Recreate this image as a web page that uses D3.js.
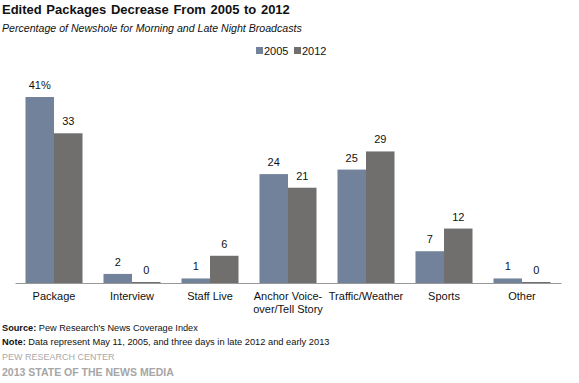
<!DOCTYPE html>
<html><head><meta charset="utf-8">
<script src="https://cdn.jsdelivr.net/npm/d3@7"></script>
<style>body{margin:0;background:#fff}svg{display:block;font-family:Arial,"Liberation Sans",sans-serif}</style>
</head><body><svg id="c" width="579" height="383"></svg>
<script>
const categories = ["Package","Interview","Staff Live","Anchor Voice-\nover/Tell Story","Traffic/Weather","Sports","Other"];
const series = ["2005","2012"];
const values2005 = [41,2,1,24,25,7,1];
const values2012 = [33,0,6,21,29,12,0];
const colors = ["#71829A","#716E6E"];

(function(){
const svg = d3.select("#c");
const base = 283, topY = 97;
const x0 = d3.scaleBand().domain(categories).range([15,561]).padding(0);
const x1 = d3.scaleBand().domain(series).range([0,x0.bandwidth()]).paddingInner(0).paddingOuter(0.368);
const y = d3.scaleLinear().domain([0,41]).range([base, topY]);

// title
svg.append("text").attr("x",2).attr("y",14).attr("font-size",13).attr("font-weight","bold")
  .attr("fill","#111").attr("word-spacing","1px").text("Edited Packages  Decrease  From 2005 to 2012");
svg.append("text").attr("x",2).attr("y",32).attr("font-size",10.6).attr("font-style","italic")
  .attr("fill","#111").text("Percentage of Newshole for Morning and Late Night Broadcasts");

// legend
const lg = svg.append("g");
[[256,"2005"],[294,"2012"]].forEach((d,i)=>{
  lg.append("rect").attr("x",d[0]).attr("y",47).attr("width",7).attr("height",7).attr("fill",colors[i]);
  lg.append("text").attr("x",d[0]+8).attr("y",55).attr("font-size",11).attr("fill","#111").text(series[i]);
});

const data = categories.map((c,i)=>({c, v:[values2005[i], values2012[i]]}));
const g = svg.append("g");
data.forEach((d,ci)=>{
  series.forEach((s,si)=>{
    const v = d.v[si];
    const bx = x0(d.c)+x1(s);
    const yy = v===0 ? base-1 : y(v);
    g.append("rect").attr("x",bx).attr("y",yy).attr("width",x1.bandwidth()).attr("height",base-yy).attr("fill",colors[si]);
    g.append("text").attr("x",bx+x1.bandwidth()/2).attr("y",yy-8).attr("text-anchor","middle")
      .attr("font-size",11).attr("fill","#111").text(v + (ci===0&&si===0?"%":""));
  });
});

// axis
const ax = svg.append("g").attr("transform",`translate(0,${base})`)
  .call(d3.axisBottom(x0).tickSize(0).tickFormat(""));
ax.select(".domain").attr("stroke","#999").attr("stroke-width",1.2);
categories.forEach(c=>{
  const lines = c.split("\n");
  const t = svg.append("text").attr("x",x0(c)+x0.bandwidth()/2).attr("y",300).attr("text-anchor","middle")
    .attr("font-size",11).attr("fill","#111");
  lines.forEach((l,i)=>t.append("tspan").attr("x",x0(c)+x0.bandwidth()/2).attr("dy",i?12.5:0).text(l));
});

// footer
const f1 = svg.append("text").attr("x",2).attr("y",331).attr("font-size",9.2).attr("fill","#111");
f1.append("tspan").attr("font-weight","bold").text("Source:");
f1.append("tspan").text(" Pew Research's News Coverage Index");
const f2 = svg.append("text").attr("x",2).attr("y",345).attr("font-size",9.3).attr("fill","#111");
f2.append("tspan").attr("font-weight","bold").text("Note:");
f2.append("tspan").text(" Data represent May 11, 2005, and three days in late 2012 and early 2013");
svg.append("text").attr("x",2).attr("y",360).attr("font-size",9).attr("fill","#aaa").text("PEW RESEARCH CENTER");
svg.append("text").attr("x",2).attr("y",376).attr("font-size",10.5).attr("font-weight","bold").attr("fill","#a6a6a6").text("2013 STATE OF THE NEWS MEDIA");
})();
</script></body></html>
